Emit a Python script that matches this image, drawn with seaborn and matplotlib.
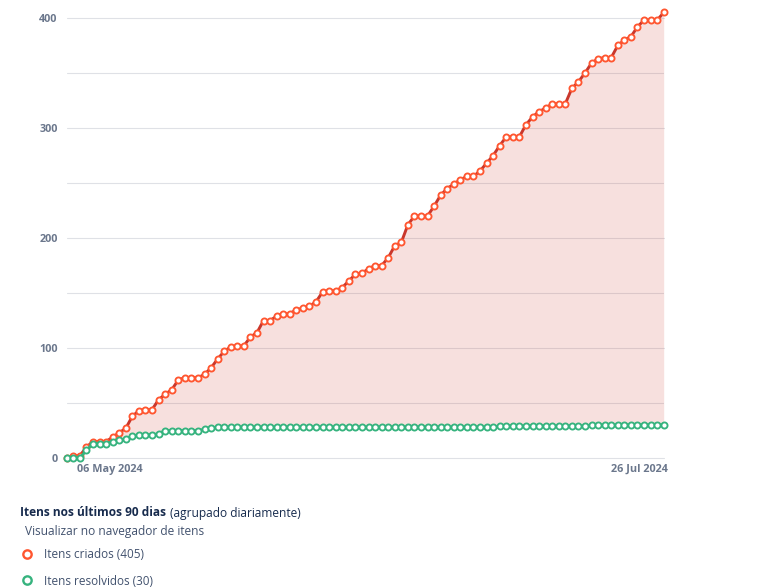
# Itens criados x resolvidos, agrupado por dia
import pandas as pd
import matplotlib.pyplot as plt
import seaborn as sns
from matplotlib.lines import Line2D
from matplotlib.transforms import ScaledTranslation

# ── Data ───────────────────────────────────────────────────────────────────────
days = pd.date_range('2024-04-26', '2024-07-26', freq='D')

created = [0, 2, 2, 10, 15, 15, 15, 19, 23, 27,
           38, 43, 44, 44, 53, 58, 62, 71, 73, 73,
           73, 76, 82, 90, 97, 101, 102, 102, 110, 114,
           125, 125, 129, 131, 131, 135, 136, 138, 142, 151,
           152, 152, 155, 161, 167, 168, 172, 175, 175, 182,
           193, 196, 212, 220, 220, 220, 229, 239, 245, 249,
           253, 256, 256, 261, 268, 275, 284, 292, 292, 292,
           303, 310, 315, 318, 322, 322, 322, 336, 342, 350,
           359, 363, 364, 364, 375, 380, 383, 392, 398, 398,
           398, 405]

resolved = [0, 0, 0, 7, 13, 13, 13, 15, 16, 17,
            20, 21, 21, 21, 22, 25, 25, 25, 25, 25,
            25, 26, 27, 28, 28, 28, 28, 28, 28, 28,
            28, 28, 28, 28, 28, 28, 28, 28, 28, 28,
            28, 28, 28, 28, 28, 28, 28, 28, 28, 28,
            28, 28, 28, 28, 28, 28, 28, 28, 28, 28,
            28, 28, 28, 28, 28, 28, 29, 29, 29, 29,
            29, 29, 29, 29, 29, 29, 29, 29, 29, 29,
            30, 30, 30, 30, 30, 30, 30, 30, 30, 30,
            30, 30]

y_ticks = [0, 100, 200, 300, 400]
y_grid = [50, 150, 250, 350]
x_ticks = ['2024-05-06', '2024-07-26']
x_labels = ['06 May 2024', '26 Jul 2024']

# ── Style ──────────────────────────────────────────────────────────────────────
sns.set_theme(style='white')
plt.rcParams['font.family'] = ['Open Sans', 'DejaVu Sans']

RED_LINE = '#c9372c'
RED_MARK = '#ff5630'
GREEN = '#36b37e'
GRID = '#dfe1e6'
TICK = '#6b778c'
NAVY = '#172b4d'
TEXT = '#42526e'

W, H = 772, 588
fig = plt.figure(figsize=(W / 100, H / 100), dpi=100)
ax = fig.add_axes([66.75 / W, (H - 458) / H, (663.7 - 66.75) / W, 458 / H])

# ── Area and lines ─────────────────────────────────────────────────────────────
ax.fill_between(days, resolved, created, color='#d04437', alpha=0.16, linewidth=0, zorder=2)

sns.lineplot(x=days, y=created, ax=ax, color=RED_LINE, linewidth=2.1, marker='o',
             markersize=4.4, markerfacecolor='white', markeredgecolor=RED_MARK,
             markeredgewidth=1.35, clip_on=False, zorder=3)
sns.lineplot(x=days, y=resolved, ax=ax, color=GREEN, linewidth=2.1, marker='o',
             markersize=4.4, markerfacecolor='white', markeredgecolor=GREEN,
             markeredgewidth=1.35, clip_on=False, zorder=4)

# ── Axes ───────────────────────────────────────────────────────────────────────
ax.set_xlim(days[0], days[-1])
ax.set_ylim(0, 458 / 1.1)
ax.set_xlabel('')
ax.set_ylabel('')
sns.despine(ax=ax, left=True, bottom=True, top=True, right=True)

ax.set_yticks(y_ticks)
ax.set_yticks(y_grid, minor=True)
ax.yaxis.grid(True, which='both', color=GRID, linewidth=0.8, zorder=1)
ax.set_axisbelow(True)
for gl in ax.get_ygridlines():
    gl.set_clip_on(False)
ax.tick_params(axis='y', which='both', length=0, pad=6.5, labelsize=7.8, labelcolor=TICK)
for lab in ax.get_yticklabels():
    lab.set_fontweight('bold')

ax.set_xticks(pd.to_datetime(x_ticks))
ax.set_xticklabels(x_labels, fontsize=7.8, fontweight='bold', color=TICK)
ax.tick_params(axis='x', length=0, pad=4)
offsets = [-22.5, -24]
for lab, dx in zip(ax.get_xticklabels(), offsets):
    lab.set_transform(lab.get_transform() + ScaledTranslation(dx / 100, 0, fig.dpi_scale_trans))

# ── Text under the chart ───────────────────────────────────────────────────────
title = fig.text(20 / W, 1 - 513 / H, 'Itens nos últimos 90 dias', fontsize=8.6,
                 fontweight='bold', color=NAVY, va='center')
fig.canvas.draw()
box = title.get_window_extent()
fig.text((box.x1 + 4) / W, 1 - 513 / H, '(agrupado diariamente)', fontsize=8.6,
         color=NAVY, va='center')
fig.text(25 / W, 1 - 532 / H, 'Visualizar no navegador de itens', fontsize=8.6,
         color=TEXT, va='center')

handles = [
    Line2D([], [], linestyle='none', marker='o', markersize=6.0, markerfacecolor='white',
           markeredgecolor=RED_MARK, markeredgewidth=1.7, label='Itens criados (405)'),
    Line2D([], [], linestyle='none', marker='o', markersize=6.0, markerfacecolor='white',
           markeredgecolor=GREEN, markeredgewidth=1.7, label='Itens resolvidos (30)'),
]
fig.legend(handles=handles, loc='upper left', bbox_to_anchor=(17 / W, 1 - 548 / H),
           frameon=False, fontsize=8.5, labelcolor=TEXT, labelspacing=1.15,
           handlelength=1.7, handletextpad=0.62, borderpad=0, borderaxespad=0)

fig.savefig('out.png', dpi=100)
